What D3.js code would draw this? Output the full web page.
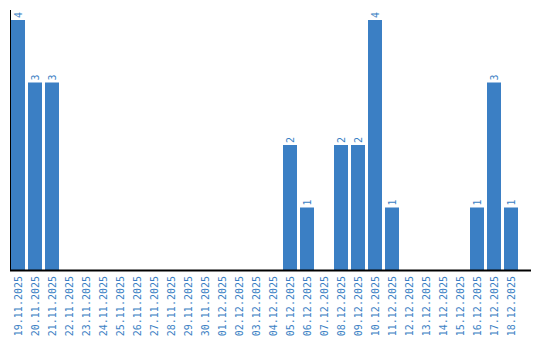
<!DOCTYPE html>
<html>
<head>
    <script src="https://d3js.org/d3.v7.min.js"></script>
    <style>
        body { margin: 0; background: #fff; }
        text { font-family: "DejaVu Sans Mono", "Liberation Mono", monospace; }
    </style>
</head>
<body>
<script>
    const dates = ["19.11.2025","20.11.2025","21.11.2025","22.11.2025","23.11.2025","24.11.2025",
        "25.11.2025","26.11.2025","27.11.2025","28.11.2025","29.11.2025","30.11.2025",
        "01.12.2025","02.12.2025","03.12.2025","04.12.2025","05.12.2025","06.12.2025",
        "07.12.2025","08.12.2025","09.12.2025","10.12.2025","11.12.2025","12.12.2025",
        "13.12.2025","14.12.2025","15.12.2025","16.12.2025","17.12.2025","18.12.2025"];
    const counts = [4,3,3,0,0,0,0,0,0,0,0,0,0,0,0,0,2,1,0,2,2,4,1,0,0,0,0,1,3,1];

    const blue = "#3b7fc4";
    const width = 540, height = 340;
    const marginLeft = 10, marginTop = 20, baseY = 270;
    const step = 17, gap = 3;

    const svg = d3.select("body").append("svg")
        .attr("width", width)
        .attr("height", height);

    const x = d3.scaleBand().domain(dates)
        .range([marginLeft + 1, marginLeft + 1 + dates.length * step - gap])
        .paddingInner(gap / step).paddingOuter(0);
    const y = d3.scaleLinear().domain([0, 4]).range([baseY, marginTop]);

    svg.selectAll("rect.bar")
        .data(dates)
        .join("rect")
        .attr("class", "bar")
        .attr("x", d => x(d))
        .attr("width", x.bandwidth())
        .attr("y", (d, i) => y(counts[i]))
        .attr("height", (d, i) => baseY - y(counts[i]))
        .attr("fill", blue);

    // value labels
    svg.selectAll("text.val")
        .data(dates.filter((d, i) => counts[i] > 0))
        .join("text")
        .attr("class", "val")
        .attr("transform", d => {
            const v = counts[dates.indexOf(d)];
            return `translate(${x(d) + x.bandwidth() / 2 + 4},${y(v) - 2}) rotate(-90)`;
        })
        .attr("font-size", 10)
        .attr("fill", blue)
        .text(d => counts[dates.indexOf(d)]);

    // x axis
    const xAxis = d3.axisBottom(x).tickSize(0).tickPadding(0);
    const gx = svg.append("g")
        .attr("transform", `translate(0,${baseY})`)
        .call(xAxis);
    gx.select(".domain").attr("d", `M${marginLeft},0.5H531`).attr("stroke", "#000").attr("stroke-width", 2);
    gx.selectAll("text")
        .attr("font-size", 10)
        .attr("font-family", "DejaVu Sans Mono")
        .attr("fill", blue)
        .attr("text-anchor", "end")
        .attr("dy", null)
        .attr("y", null)
        .attr("transform", "translate(4,6) rotate(-90)");

    // y axis line
    svg.append("line")
        .attr("x1", marginLeft + 0.5).attr("x2", marginLeft + 0.5)
        .attr("y1", 10).attr("y2", baseY)
        .attr("stroke", "#000").attr("stroke-width", 1);
</script>
</body>
</html>
